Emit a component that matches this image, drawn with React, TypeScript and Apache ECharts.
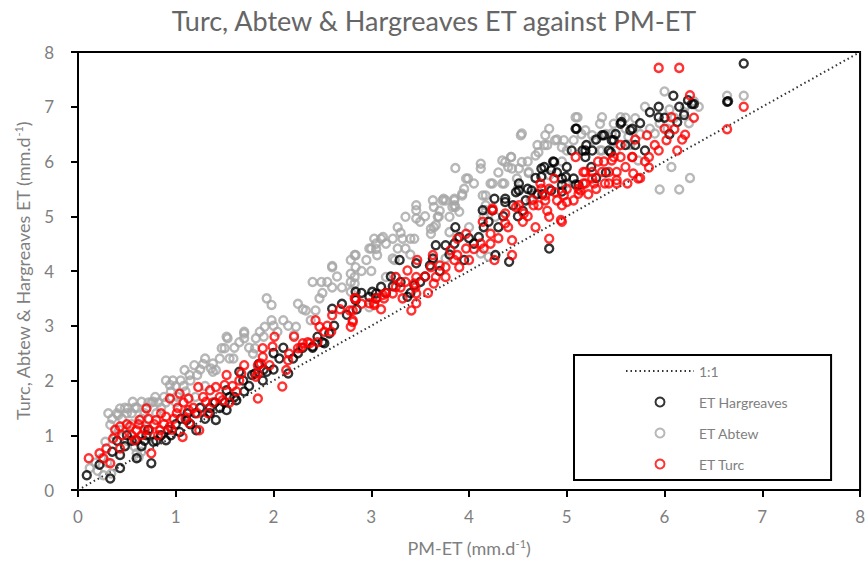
import React, { useEffect, useRef } from "react";
import * as echarts from "echarts";

const TITLE = "Turc, Abtew & Hargreaves ET against PM-ET";
const X_TICKS = [0, 1, 2, 3, 4, 5, 6, 7, 8];
const Y_TICKS = [0, 1, 2, 3, 4, 5, 6, 7, 8];
const SERIES_NAMES = ["1:1", "ET Hargreaves", "ET Abtew", "ET Turc"];
const ONE_TO_ONE: number[][] = [[0, 0], [8, 8]];

const hargreaves: number[][] = [
  [6.81, 7.79], [6.64, 7.09], [6.09, 7.2], [6.24, 7.12], [5.94, 7.0], [5.94, 6.81], [5.56, 6.72], [5.1, 6.6],
  [5.38, 6.48], [5.67, 6.6], [5.48, 6.39], [5.19, 6.2], [5.43, 6.2], [5.07, 5.69], [5.12, 5.57], [6.13, 6.72],
  [5.8, 6.2], [4.95, 5.69],
  [4.82, 4.41], [4.41, 4.17], [4.24, 5.11], [4.37, 5.26], [4.51, 5.47], [4.77, 5.9], [4.87, 5.99], [5.09, 5.58],
  [4.95, 5.57], [4.58, 5.29], [4.14, 5.11], [4.27, 4.29], [4.1, 4.62], [3.86, 4.8], [3.9, 4.62], [3.66, 4.47],
  [3.63, 4.23], [3.76, 4.47], [3.29, 4.2], [3.22, 3.72], [3.44, 3.74], [3.37, 3.53], [3.05, 3.59], [2.98, 3.53],
  [2.84, 3.47], [3.46, 4.14],
  [2.6, 3.31], [2.84, 3.62], [3.1, 3.71], [3.01, 3.62], [2.57, 2.86], [2.52, 2.68], [2.4, 2.62], [2.06, 2.4],
  [2.15, 2.13], [1.65, 2.16], [1.93, 2.16],
  [0.09, 0.27], [0.22, 0.46], [0.33, 0.21], [0.43, 0.4], [0.43, 0.64], [0.6, 0.58], [0.75, 0.49], [0.77, 0.88],
  [0.6, 0.91], [0.9, 0.91], [1.04, 1.06], [1.21, 1.09], [1.41, 1.28], [1.52, 1.46], [1.62, 1.64], [1.69, 2.0],
  [1.89, 2.0], [1.81, 2.13], [1.52, 1.82], [1.11, 1.28],
  [5.09, 6.6], [5.36, 6.48], [5.55, 6.69], [5.65, 6.57], [5.46, 6.39], [5.16, 6.2], [5.26, 6.2], [5.19, 6.08],
  [5.45, 6.17], [4.86, 6.0], [4.74, 5.87], [4.84, 5.84], [4.74, 5.72], [4.99, 5.72], [4.51, 5.6], [4.48, 5.44],
  [4.37, 5.32], [4.26, 5.32], [4.64, 5.47], [4.84, 5.47],
  [0.5, 1.0], [0.7, 1.0], [0.8, 0.9], [0.95, 1.0], [1.0, 1.2], [1.15, 1.2], [1.3, 1.3], [1.45, 1.5],
  [1.6, 1.7], [1.75, 1.9], [2.0, 2.5], [2.1, 2.6], [2.25, 2.5], [2.4, 2.6], [2.5, 2.7], [2.7, 3.4],
  [2.9, 3.6], [3.2, 3.9], [3.5, 3.8], [3.7, 4.0], [3.95, 4.2], [4.05, 4.5], [4.3, 4.8], [4.5, 5.0],
  [4.6, 5.5], [4.2, 4.9], [1.9, 2.2], [1.35, 1.5], [0.65, 0.8], [5.3, 5.7], [5.7, 6.3], [6.05, 6.5],
  [6.28, 7.05], [6.65, 7.1],
  [0.35, 0.7], [0.4, 0.9], [0.48, 0.8], [0.55, 0.9], [0.68, 0.9], [0.72, 1.1], [0.85, 1.0], [0.92, 1.1],
  [1.05, 1.3], [1.12, 1.4], [1.2, 1.4], [1.25, 1.5], [1.35, 1.4], [1.4, 1.6], [1.5, 1.6], [1.55, 1.7],
  [1.7, 1.8], [1.78, 2.1], [1.85, 2.3], [2.0, 2.2], [2.2, 2.4], [2.3, 2.6], [2.45, 2.8], [2.62, 3.0],
  [2.75, 3.2], [2.85, 3.3], [3.05, 3.5], [3.15, 3.6], [3.3, 3.8], [3.4, 3.6], [3.55, 3.9], [3.6, 4.1],
  [3.8, 4.3], [3.85, 4.5], [4.0, 4.6], [4.15, 4.8], [4.35, 5.0], [4.45, 5.2], [4.55, 5.1], [4.7, 5.4],
  [4.9, 5.8], [5.0, 5.9], [5.05, 6.2], [5.2, 6.3], [5.3, 6.4], [5.5, 6.5], [5.6, 6.3], [5.75, 6.7],
  [5.85, 6.9], [6.0, 6.8], [6.15, 7.0], [6.2, 6.85], [6.3, 7.05], [4.68, 5.7], [4.75, 5.4], [4.95, 5.45],
  [5.25, 5.9], [5.4, 5.8],
];

const abtew: number[][] = [
  [6.0, 7.28], [6.64, 7.2], [6.81, 7.2], [6.07, 5.9], [6.26, 5.7], [5.95, 5.49], [6.15, 5.49], [5.09, 6.81],
  [5.36, 6.81], [5.55, 6.81], [5.8, 7.0], [6.21, 7.0], [4.97, 6.39], [5.07, 6.39], [5.26, 6.48], [5.7, 6.79],
  [5.9, 6.51], [5.34, 6.2], [4.95, 6.0], [5.73, 6.02],
  [3.86, 5.88], [4.12, 5.96], [4.37, 5.99], [4.54, 5.99], [4.43, 6.08], [3.97, 5.69], [4.24, 5.6], [4.36, 5.6],
  [4.61, 5.79], [4.68, 6.11], [4.8, 6.3], [4.78, 6.48], [4.53, 6.48], [3.35, 4.99], [3.46, 5.11], [3.63, 5.29],
  [3.73, 5.29], [3.86, 5.17], [3.27, 4.8], [3.22, 4.59], [3.32, 4.59], [3.44, 4.59], [3.03, 4.59], [2.98, 4.41],
  [3.12, 4.62], [3.61, 4.68], [3.64, 4.8], [3.69, 4.99], [3.8, 4.99], [3.8, 4.71], [4.17, 5.38], [4.17, 5.11],
  [4.27, 4.99], [4.0, 4.8], [3.22, 4.23], [2.84, 4.29], [2.84, 4.07], [2.83, 3.89], [2.83, 3.77], [3.63, 4.2],
  [3.76, 4.23], [4.12, 4.32], [4.2, 4.26], [3.25, 3.89], [4.63, 5.29], [4.68, 5.41], [4.99, 5.6], [4.82, 5.75],
  [3.1, 4.59], [3.0, 4.41], [3.06, 4.29], [2.6, 4.07], [2.83, 4.29], [2.79, 4.2], [2.79, 3.95], [2.79, 3.8],
  [2.4, 3.8], [2.49, 3.8], [2.47, 3.5], [2.33, 3.28], [2.43, 3.28], [2.38, 3.1], [1.93, 3.5], [1.98, 3.38],
  [1.98, 3.1], [1.91, 2.98], [1.86, 2.89], [2.04, 2.89], [1.7, 2.89], [1.7, 2.77], [1.82, 2.77], [2.23, 2.98],
  [2.21, 2.83], [1.53, 2.77], [1.5, 2.59], [1.55, 2.4], [1.3, 2.4], [1.38, 2.31], [1.19, 2.28], [1.09, 2.19],
  [1.14, 2.1], [1.38, 2.16], [3.15, 3.89], [2.79, 3.62], [2.98, 3.34],
  [1.52, 2.8], [1.7, 2.86], [1.47, 2.59], [1.59, 2.4], [1.79, 2.49], [1.36, 2.22], [1.41, 2.19], [0.9, 2.0],
  [0.97, 2.0], [0.94, 1.92], [0.79, 1.7], [0.65, 1.61], [0.77, 1.61], [0.56, 1.61], [0.43, 1.49], [0.51, 1.49],
  [0.31, 1.4], [0.41, 1.37], [0.33, 1.19], [0.28, 0.88], [0.24, 0.58], [0.12, 0.4], [0.26, 0.27], [0.34, 0.3],
  [0.58, 0.79], [0.6, 0.67], [0.7, 1.16], [1.81, 2.59],
  [5.11, 6.81], [5.34, 6.69], [5.48, 6.69], [4.54, 6.51], [4.82, 6.6], [4.88, 6.39], [5.19, 6.57], [5.28, 6.39],
  [4.77, 6.3], [4.71, 6.17], [4.95, 6.26], [4.43, 6.08], [4.34, 6.02], [4.12, 5.87], [3.99, 5.69], [4.44, 5.87],
  [4.51, 5.87], [4.61, 5.81], [4.22, 5.6], [4.34, 5.6], [4.49, 5.69], [3.74, 5.32], [3.85, 5.32], [3.93, 5.38],
  [4.14, 5.38], [3.85, 5.2], [4.17, 5.2], [5.46, 6.51], [5.36, 6.2], [5.63, 6.45],
  [3.93, 5.41], [3.76, 5.29], [3.85, 5.29], [3.46, 5.2], [3.64, 5.17], [3.83, 5.17], [3.9, 5.08], [3.46, 4.96],
  [3.68, 4.99], [3.05, 4.5], [3.27, 4.41], [3.35, 4.41], [2.6, 4.09], [3.61, 4.77], [3.66, 4.84], [3.24, 4.2],
  [3.4, 4.59],
  [0.45, 1.3], [0.5, 1.4], [0.6, 1.5], [0.7, 1.5], [0.75, 1.6], [0.85, 1.5], [0.9, 1.6], [0.55, 1.2],
  [0.65, 1.3], [1.0, 1.9], [1.05, 2.0], [1.25, 2.2], [0.42, 1.1], [0.38, 1.0], [0.65, 0.7], [0.62, 0.6],
  [0.5, 0.9], [0.8, 1.4], [1.0, 1.6], [1.1, 1.8], [1.2, 1.7], [1.3, 1.9], [0.18, 0.5], [0.2, 0.35],
  [0.3, 0.5], [5.6, 6.6], [5.75, 6.5], [6.1, 6.8], [6.2, 6.9], [5.95, 6.7], [6.3, 7.1], [5.5, 6.2],
  [5.65, 6.3], [6.03, 6.6],
  [0.35, 1.3], [0.4, 1.4], [0.48, 1.5], [0.55, 1.4], [0.58, 1.5], [0.68, 1.4], [0.72, 1.6], [0.82, 1.6],
  [0.88, 1.7], [0.95, 1.8], [1.02, 1.7], [1.08, 1.9], [1.15, 2.0], [1.22, 2.1], [1.28, 2.3], [1.45, 2.4],
  [1.6, 2.6], [1.65, 2.7], [1.75, 2.6], [1.9, 2.8], [2.0, 3.0], [2.1, 3.1], [2.15, 3.0], [2.3, 3.3],
  [2.5, 3.6], [2.55, 3.8], [2.65, 3.9], [2.7, 3.7], [2.9, 4.0], [2.95, 4.2], [3.05, 4.4], [3.15, 4.5],
  [3.3, 4.7], [3.5, 4.9], [3.55, 5.0], [3.7, 5.1], [3.95, 5.5], [4.05, 5.6], [4.3, 5.8], [4.4, 5.9],
  [4.6, 6.0], [4.7, 6.3], [4.9, 6.4], [5.0, 6.2], [5.15, 6.5], [5.4, 6.5], [5.6, 6.8], [5.85, 6.6],
  [6.05, 6.95], [6.35, 7.0], [6.25, 6.7], [4.5, 5.5], [4.15, 5.0], [3.4, 4.3], [3.0, 4.0], [2.6, 3.7],
  [2.25, 3.4],
];

const turc: number[][] = [
  [5.94, 7.71], [6.15, 7.71], [6.26, 7.21], [6.81, 7.0], [6.64, 6.59], [6.07, 6.81], [6.1, 6.59], [6.21, 6.49],
  [6.02, 6.39], [6.13, 6.2], [5.82, 6.48], [5.94, 6.2], [5.84, 6.08], [5.84, 5.89], [5.75, 5.7], [5.62, 5.6],
  [5.55, 6.3], [5.67, 6.08], [5.32, 6.0], [5.48, 6.08], [5.17, 5.81], [5.26, 5.69], [5.39, 5.6], [5.51, 5.6],
  [5.09, 6.08], [5.14, 5.47], [5.07, 5.29], [4.95, 5.2], [4.95, 4.9],
  [4.73, 5.6], [4.78, 5.38], [4.9, 5.29], [5.0, 5.26], [5.12, 5.41], [5.17, 5.6], [4.82, 4.99], [4.94, 4.93],
  [4.48, 5.17], [4.56, 5.05], [4.66, 5.2], [4.68, 4.8], [4.82, 4.59], [4.37, 5.05], [4.37, 4.87], [4.24, 5.11],
  [4.44, 4.56], [4.44, 4.29], [4.26, 4.2], [4.14, 4.9], [4.22, 4.68], [4.22, 4.5], [4.12, 4.5], [4.15, 4.41],
  [3.97, 4.68], [3.97, 4.41], [3.88, 4.59], [3.81, 4.38], [3.88, 4.29], [3.76, 4.07], [3.63, 4.29], [3.61, 4.07],
  [3.66, 3.89], [3.76, 3.89], [3.9, 4.07], [3.64, 3.77], [3.47, 4.2], [3.37, 4.01], [3.46, 3.89], [3.25, 3.89],
  [3.44, 3.77], [3.35, 3.8], [3.25, 3.71], [3.46, 3.59], [3.32, 3.5], [3.46, 3.41], [3.41, 3.28], [3.22, 3.59],
  [3.12, 3.56], [3.03, 3.41], [2.98, 3.41], [2.83, 3.5], [2.81, 3.28], [2.81, 3.07],
  [2.84, 3.5], [2.78, 3.28], [2.81, 3.1], [2.79, 2.98], [2.6, 3.19], [2.43, 3.1], [2.47, 2.98], [2.52, 2.89],
  [2.59, 2.89], [3.03, 3.38], [3.13, 3.5], [2.37, 2.68], [2.3, 2.68], [2.21, 2.8], [2.25, 2.59], [2.16, 2.49],
  [2.15, 2.37], [2.13, 2.19], [2.01, 2.8], [1.99, 2.62], [1.89, 2.59], [1.89, 2.43], [1.96, 2.28], [1.84, 2.28],
  [1.84, 2.13], [1.7, 2.28], [1.67, 2.13], [1.52, 2.1], [2.09, 1.89],
  [0.11, 0.58], [0.22, 0.67], [0.26, 0.58], [0.33, 0.49], [0.29, 0.76], [0.36, 0.94], [0.43, 0.76], [0.43, 1.16],
  [0.53, 1.16], [0.63, 1.28], [0.6, 1.09], [0.58, 0.91], [0.75, 0.67], [0.7, 1.49], [0.8, 1.28], [0.94, 1.16],
  [0.9, 1.34], [1.01, 1.4], [1.07, 0.97], [1.24, 1.09], [0.94, 1.67], [1.04, 1.76], [1.13, 1.67], [1.23, 1.88],
  [1.35, 1.82], [1.41, 1.88], [1.5, 1.92], [1.62, 1.8], [1.48, 1.64], [1.31, 1.61], [1.33, 1.4], [1.13, 1.46],
  [1.14, 1.22], [1.82, 2.07], [1.87, 2.31], [1.84, 1.67], [0.73, 1.09], [0.84, 1.09],
  [5.55, 6.08], [5.38, 6.0], [5.67, 6.08], [5.46, 6.02], [5.68, 5.78], [5.73, 5.69], [5.19, 5.81], [5.26, 5.81],
  [5.36, 5.81], [5.43, 5.81], [5.51, 5.81], [5.19, 5.6], [5.28, 5.6], [5.43, 5.6], [5.51, 5.66], [5.12, 5.5],
  [4.87, 5.69], [4.74, 5.5], [4.82, 5.5], [4.88, 5.44], [4.97, 5.38], [4.78, 5.29], [4.71, 5.2], [4.51, 5.2],
  [4.24, 5.14],
  [0.38, 1.1], [0.45, 1.0], [0.5, 1.2], [0.55, 1.0], [0.62, 1.2], [0.68, 1.1], [0.72, 1.3], [0.78, 1.2],
  [0.85, 1.4], [0.88, 1.2], [0.98, 1.3], [1.02, 1.5], [1.08, 1.6], [1.18, 1.5], [1.22, 1.4], [1.28, 1.7],
  [1.38, 1.6], [1.45, 1.7], [1.55, 1.6], [1.58, 1.9], [1.65, 2.0], [0.65, 1.0], [0.82, 1.0], [0.96, 1.1],
  [1.1, 1.3], [2.28, 2.6], [2.35, 2.7], [2.45, 2.7], [2.55, 3.0], [2.68, 3.3], [2.9, 3.4], [3.05, 3.5],
  [3.15, 3.6], [3.3, 3.7], [3.55, 3.9], [3.7, 4.1], [3.85, 4.2], [4.05, 4.4], [4.3, 4.6], [4.55, 4.9],
  [4.6, 5.0], [4.65, 5.3], [5.0, 5.5], [5.3, 5.5], [5.6, 5.9], [5.8, 6.0], [5.9, 6.3], [6.0, 6.6],
  [6.18, 6.4], [6.3, 6.8], [5.7, 6.4], [3.45, 3.7], [3.58, 3.6], [3.1, 3.3], [4.0, 4.2], [4.4, 4.8],
  [4.8, 5.1], [5.22, 5.4],
];

const FONT = "Lato, 'Open Sans', sans-serif";
const GRAY_TEXT = "#7f7f7f";

export default function App() {
  const ref = useRef<HTMLDivElement>(null);

  useEffect(() => {
    document.body.style.margin = "0";
    if (!ref.current) return;
    const chart = echarts.init(ref.current, undefined, { renderer: "svg" });
    const scatterBase = {
      type: "scatter" as const,
      symbol: "circle",
      symbolSize: 8,
    };
    const nameRich = {
      t: { fontSize: 18, color: GRAY_TEXT, fontFamily: FONT },
      s: { fontSize: 11, color: GRAY_TEXT, fontFamily: FONT, verticalAlign: "top", padding: [0, 0, 8, 0] },
    };
    chart.setOption({
      animation: false,
      backgroundColor: "#fff",
      textStyle: { fontFamily: FONT },
      title: {
        text: TITLE,
        left: "center",
        top: 2,
        textStyle: { color: "#666666", fontSize: 27, fontWeight: "normal", fontFamily: FONT },
      },
      grid: {
        left: 78,
        right: 7,
        top: 52,
        bottom: 79,
        show: true,
        borderColor: "#000",
        borderWidth: 2,
      },
      legend: {
        orient: "vertical",
        left: 574,
        top: 355,
        padding: [6, 43, 6, 51],
        itemGap: 11,
        itemWidth: 68,
        itemHeight: 9,
        borderColor: "#000",
        borderWidth: 2,
        data: [
          { name: SERIES_NAMES[0], itemStyle: { opacity: 0 } },
          SERIES_NAMES[1],
          SERIES_NAMES[2],
          SERIES_NAMES[3],
        ],
        textStyle: { color: GRAY_TEXT, fontSize: 14, fontFamily: FONT, lineHeight: 20 },
      },
      xAxis: {
        type: "value",
        min: X_TICKS[0],
        max: X_TICKS[X_TICKS.length - 1],
        interval: 1,
        name: "{t|PM-ET (mm.d}{s|-1}{t|)}",
        nameLocation: "middle",
        nameGap: 48,
        nameTextStyle: { rich: nameRich },
        axisLine: { show: true, onZero: false, lineStyle: { color: "#000", width: 2 } },
        axisTick: { show: true, inside: false, length: 7, lineStyle: { color: "#000", width: 2 } },
        axisLabel: { color: GRAY_TEXT, fontSize: 17, margin: 18, fontFamily: FONT },
        splitLine: { show: false },
      },
      yAxis: {
        type: "value",
        min: Y_TICKS[0],
        max: Y_TICKS[Y_TICKS.length - 1],
        interval: 1,
        name: "{t|Turc, Abtew & Hargreaves ET (mm.d}{s|-1}{t|)}",
        nameLocation: "middle",
        nameGap: 46,
        nameTextStyle: { rich: nameRich },
        axisLine: { show: true, onZero: false, lineStyle: { color: "#000", width: 2 } },
        axisTick: { show: true, inside: false, length: 7, lineStyle: { color: "#000", width: 2 } },
        axisLabel: { color: GRAY_TEXT, fontSize: 17, margin: 24, fontFamily: FONT },
        splitLine: { show: false },
      },
      series: [
        {
          name: SERIES_NAMES[0],
          type: "line",
          data: ONE_TO_ONE,
          symbol: "none",
          showSymbol: false,
          z: 1,
          lineStyle: { color: "#333", width: 2, type: [1.5, 3] },
          itemStyle: { color: "#333" },
        },
        {
          ...scatterBase,
          name: SERIES_NAMES[1],
          data: hargreaves,
          z: 3,
          itemStyle: { color: "rgba(0,0,0,0)", borderColor: "#000", borderWidth: 2.4 },
        },
        {
          ...scatterBase,
          name: SERIES_NAMES[2],
          data: abtew,
          z: 2,
          itemStyle: { color: "rgba(0,0,0,0)", borderColor: "#a6a6a6", borderWidth: 2.4 },
        },
        {
          ...scatterBase,
          name: SERIES_NAMES[3],
          data: turc,
          z: 4,
          itemStyle: { color: "rgba(0,0,0,0)", borderColor: "#ff0000", borderWidth: 2.4 },
        },
      ],
    });
    return () => chart.dispose();
  }, []);

  return <div ref={ref} style={{ width: 868, height: 569 }} />;
}
